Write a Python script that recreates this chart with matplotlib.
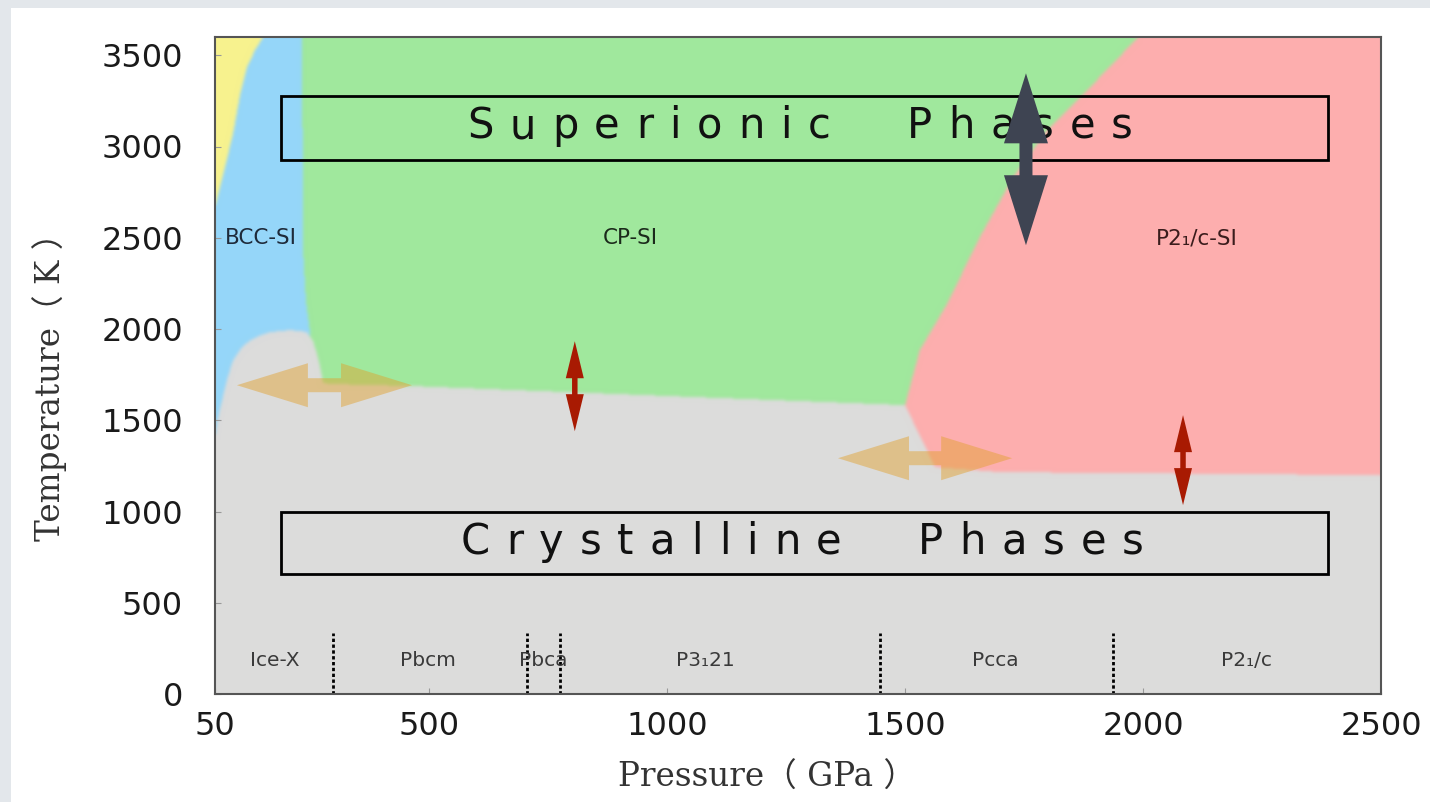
import numpy as np
import matplotlib
matplotlib.use("Agg")
import matplotlib.pyplot as plt
from matplotlib.patches import Polygon, Rectangle
from matplotlib.path import Path
from matplotlib.font_manager import FontProperties, findfont, get_font

# ---- phase boundaries (pressure in GPa, temperature in K) ----
bcc_cp_P = [233, 235, 241, 250, 250]
bcc_cp_T = [3600, 2432, 2158, 1977, 1900]

fluid_P = [50, 60.5, 73, 88, 102.5, 117, 134, 151, 153]
fluid_T = [2667, 2777, 2908, 3072, 3280, 3434, 3527, 3598, 3600]

cp_p21_P = [1500, 1531, 1588, 1657, 1727, 1798, 1868, 1935, 1990]
cp_p21_T = [1583, 1884, 2136, 2503, 2831, 3089, 3269, 3450, 3600]

solid_top_P = [50, 55, 65, 76, 88, 105, 124, 145, 166, 188, 208, 228, 243, 256, 264, 272,
               277, 300, 466, 1069, 1500, 1563, 1699, 2500]
solid_top_T = [1407, 1500, 1610, 1730, 1829, 1895, 1939, 1966, 1982, 1990, 1993, 1990,
               1982, 1935, 1867, 1780, 1703, 1698, 1687, 1626, 1583, 1243, 1216, 1199]

# crystalline transition pressures along T = 0
transition_P = [298, 706, 775, 1447, 1937]
transition_T_max = 334

crystal_names = ["Ice-X", "Pbcm", "Pbca", "P3\u208121", "Pcca", "P2\u2081/c"]
crystal_P = [176, 498, 739, 1080, 1689, 2218]
crystal_T = 186

si_names = ["BCC-SI", "CP-SI", "P2\u2081/c-SI"]
si_P = [147, 922, 2113]
si_T = 2497
si_colors = ["#1e2a3a", "#1b2a1b", "#3a1c1c"]

# group boxes: (P_left, P_right, T_low, T_high)
superionic_box = (189, 2389, 2924, 3275)
crystalline_box = (189, 2389, 657, 997)
superionic_text = ("Superionic Phases", 1279, 3111)
crystalline_text = ("Crystalline Phases", 1284, 832)

# transition arrows: (P_start, T_start, P_end, T_end)
melt_arrows = [(96, 1692, 464, 1692), (1359, 1292, 1725, 1292)]
heat_arrows = [(806, 1933, 806, 1440), (2084, 1528, 2084, 1035)]
si_arrow = (1754, 3401, 1754, 2459)

x_ticks = [50, 500, 1000, 1500, 2000, 2500]
y_ticks = [0, 500, 1000, 1500, 2000, 2500, 3000, 3500]

P_MIN, P_MAX = 50, 2500
T_MIN, T_MAX = 0, 3600

C_BLUE = "#95d6f9"
C_GREEN = "#a0e89d"
C_RED = "#fdaeae"
C_GRAY = "#dcdcdb"
C_YELLOW = "#f7f28e"

fig = plt.figure(figsize=(14.3, 8.02), dpi=100, facecolor="#e3e7eb")
fig.patches.append(Rectangle((11 / 1430, 0), 1 - 11 / 1430, 794 / 802,
                             transform=fig.transFigure, facecolor="white",
                             edgecolor="none", zorder=-5))
ax = fig.add_axes([215 / 1430, 108 / 802, 1166 / 1430, 657 / 802])
ax.set_zorder(1)
ax.set_xlim(P_MIN, P_MAX)
ax.set_ylim(T_MIN, T_MAX)

# ---- phase map rendered on a fine grid, edges slightly softened ----
NX, NY = 1166, 657
gp = P_MIN + (np.arange(NX) + 0.5) * (P_MAX - P_MIN) / NX
gt = T_MIN + (np.arange(NY) + 0.5) * (T_MAX - T_MIN) / NY
GP, GT = np.meshgrid(gp, gt)
pts = np.column_stack([GP.ravel(), GT.ravel()])

regions = [
    (list(zip(bcc_cp_P, bcc_cp_T)) + [(250, 0), (P_MAX, 0), (P_MAX, T_MAX)], C_GREEN),
    (list(zip(cp_p21_P + [P_MAX, P_MAX, cp_p21_P[0]], cp_p21_T + [T_MAX, 0, 0])), C_RED),
    (list(zip(fluid_P + [P_MIN], fluid_T + [T_MAX])), C_YELLOW),
    (list(zip(solid_top_P + [P_MAX, P_MIN], solid_top_T + [0, 0])), C_GRAY),
]
img = np.empty((NY * NX, 3))
img[:] = matplotlib.colors.to_rgb(C_BLUE)
for poly, col in regions:
    inside = Path(poly).contains_points(pts)
    img[inside] = matplotlib.colors.to_rgb(col)
img = img.reshape(NY, NX, 3)

sigma = 1.6
k = np.arange(-5, 6)
w = np.exp(-0.5 * (k / sigma) ** 2)
w /= w.sum()
pad = np.pad(img, ((5, 5), (5, 5), (0, 0)), mode="edge")
tmp = sum(w[i] * pad[:, i:i + NX, :] for i in range(11))
img = sum(w[i] * tmp[i:i + NY, :, :] for i in range(11))
ax.imshow(img, extent=[P_MIN, P_MAX, T_MIN, T_MAX], origin="lower", aspect="auto",
          interpolation="bilinear", zorder=1)
ax.set_xlim(P_MIN, P_MAX)
ax.set_ylim(T_MIN, T_MAX)

# transition markers and crystal names
for p in transition_P:
    ax.plot([p, p], [0, transition_T_max], color="black", lw=2, ls=(0, (1.2, 0.9)), zorder=4)
for name, p in zip(crystal_names, crystal_P):
    ax.text(p, crystal_T, name, ha="center", va="center", fontsize=14.5,
            color="#3a3a3a", zorder=5)
for name, p, c in zip(si_names, si_P, si_colors):
    ax.text(p, si_T, name, ha="center", va="center", fontsize=15.5, color=c, zorder=5)

# group boxes
for (p0, p1, t0, t1) in (superionic_box, crystalline_box):
    ax.add_patch(Rectangle((p0, t0), p1 - p0, t1 - t0, fill=False,
                           edgecolor="black", lw=2.0, zorder=6))


def tracked_text(txt, x, y, size, tracking, word_gap, **kw):
    """Letter-spaced text centred on (x, y) in data units; spacing in pixels."""
    prop = FontProperties(family="DejaVu Sans", size=size)
    font = get_font(findfont(prop))
    font.set_size(size, fig.dpi)
    cells = []
    cur = 0.0
    for ch in txt:
        if ch == " ":
            cur += word_gap - tracking
            continue
        adv = font.load_char(ord(ch)).linearHoriAdvance / 65536
        cells.append((ch, cur + adv / 2))
        cur += adv + tracking
    total = cur - tracking
    cx, cy = ax.transData.transform((x, y))
    inv = ax.transData.inverted()
    for ch, off in cells:
        px, py = inv.transform((cx - total / 2 + off, cy))
        ax.text(px, py, ch, ha="center", va="center", fontproperties=prop, **kw)


for (txt, p, t) in (superionic_text, crystalline_text):
    tracked_text(txt, p, t, 30, 16, 76, color="#111111", zorder=6)


def double_arrow(x0, y0, x1, y1, head_len, head_w, shaft_w, **kw):
    """Double-headed arrow polygon; sizes in pixels, ends in data units."""
    a = ax.transData.transform((x0, y0))
    b = ax.transData.transform((x1, y1))
    d = b - a
    u = d / np.hypot(*d)
    n = np.array([-u[1], u[0]])
    hw, sw = head_w / 2, shaft_w / 2
    outline = [a,
               a + u * head_len + n * hw,
               a + u * head_len + n * sw,
               b - u * head_len + n * sw,
               b - u * head_len + n * hw,
               b,
               b - u * head_len - n * hw,
               b - u * head_len - n * sw,
               a + u * head_len - n * sw,
               a + u * head_len - n * hw]
    outline = ax.transData.inverted().transform(np.array(outline))
    ax.add_patch(Polygon(outline, closed=True, lw=0, **kw))


for (p0, t0, p1, t1) in melt_arrows:
    double_arrow(p0, t0, p1, t1, 71, 44, 14, facecolor=(225 / 255, 160 / 255, 43 / 255),
                 alpha=0.46, zorder=7)
for (p0, t0, p1, t1) in heat_arrows:
    double_arrow(p0, t0, p1, t1, 37, 18, 5.5, facecolor="#a81a02", zorder=7)
double_arrow(*si_arrow, 70, 44, 13, facecolor="#3e4452", zorder=8)

# axes styling
ax.set_xticks(x_ticks)
ax.set_yticks(y_ticks)
ax.tick_params(axis="both", direction="in", length=4, width=0.8, color="#999999",
               labelsize=23, labelcolor="#1a1a1a")
ax.tick_params(axis="y", pad=23)
ax.tick_params(axis="x", pad=12)
for s in ax.spines.values():
    s.set_color("#555555")
    s.set_linewidth(1.5)
    s.set_zorder(10)

lab_family = ["DejaVu Serif", "Noto Sans CJK SC"]
ax.text(0.473, -0.128, "Pressure\uff08 GPa \uff09", transform=ax.transAxes, ha="center",
        va="center", fontsize=23.5, color="#333333", family=lab_family)
ax.text(-0.1415, 0.480, "Temperature\uff08 K \uff09", transform=ax.transAxes, ha="center",
        va="center", rotation=90, fontsize=23.5, color="#333333", family=lab_family)

fig.savefig("out.png", dpi=100, facecolor=fig.get_facecolor())
